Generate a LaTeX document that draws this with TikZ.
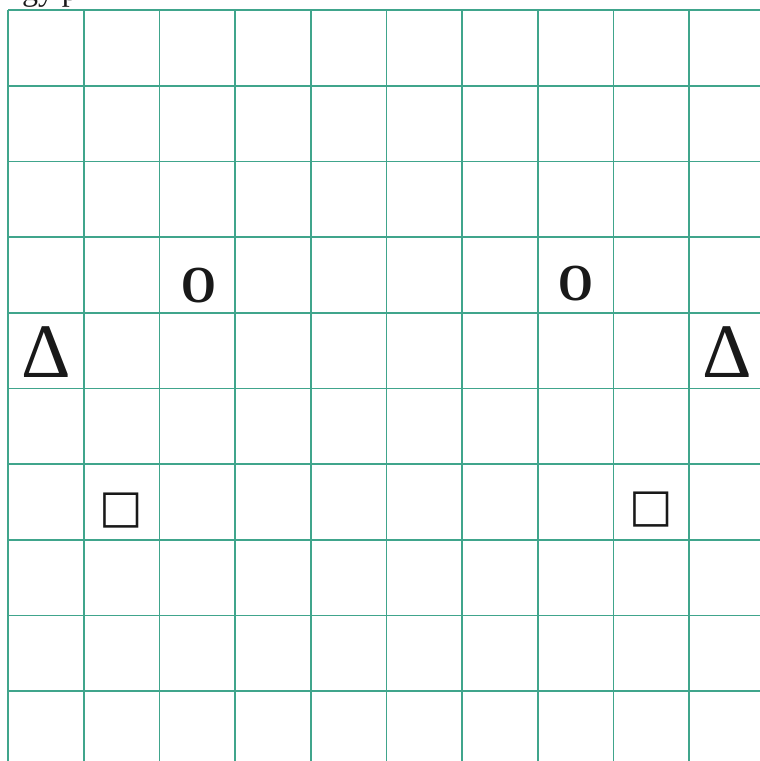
\documentclass[tikz,border=0pt]{standalone}
\usepackage{fontspec}
\setmainfont{Liberation Serif}
\newfontfamily\symfont{DejaVu Sans}
\definecolor{gridteal}{RGB}{64,165,140}
\begin{document}
\begin{tikzpicture}[x=1pt,y=-1pt,
  gridline/.style={draw=gridteal,line width=1.7pt},
  glyph/.style={inner sep=0pt,outer sep=0pt,text=black!90},
  circ/.style={glyph,font=\fontsize{52}{52}\selectfont\bfseries,xscale=0.86},
  tri/.style={glyph,font=\fontsize{77}{77}\selectfont},
  sq/.style={glyph,font=\symfont\fontsize{46}{46}\selectfont}]
\useasboundingbox (0,0) rectangle (760,761);
\clip (0,0) rectangle (760,761);
% cropped caption text above the grid
\node[glyph,anchor=base west,font=\fontsize{32}{32}\selectfont] (cap) at (22,0.5) {gy p};
% grid
\foreach \i in {0,...,9}{
  \draw[gridline] ({8+75.7*\i},10) -- ({8+75.7*\i},762);
  \draw[gridline] (8,{10+75.7*\i}) -- (761,{10+75.7*\i});
}
% symbols
\node[circ] (o1) at (198.5,286) {O};
\node[circ] (o2) at (575.5,284) {O};
\node[tri] (d1) at (46.5,352) {Δ};
\node[tri] (d2) at (727.5,352) {Δ};
\node[sq] (s1) at (121.5,510.5) {□};
\node[sq] (s2) at (651.5,510) {□};
\end{tikzpicture}
\end{document}
